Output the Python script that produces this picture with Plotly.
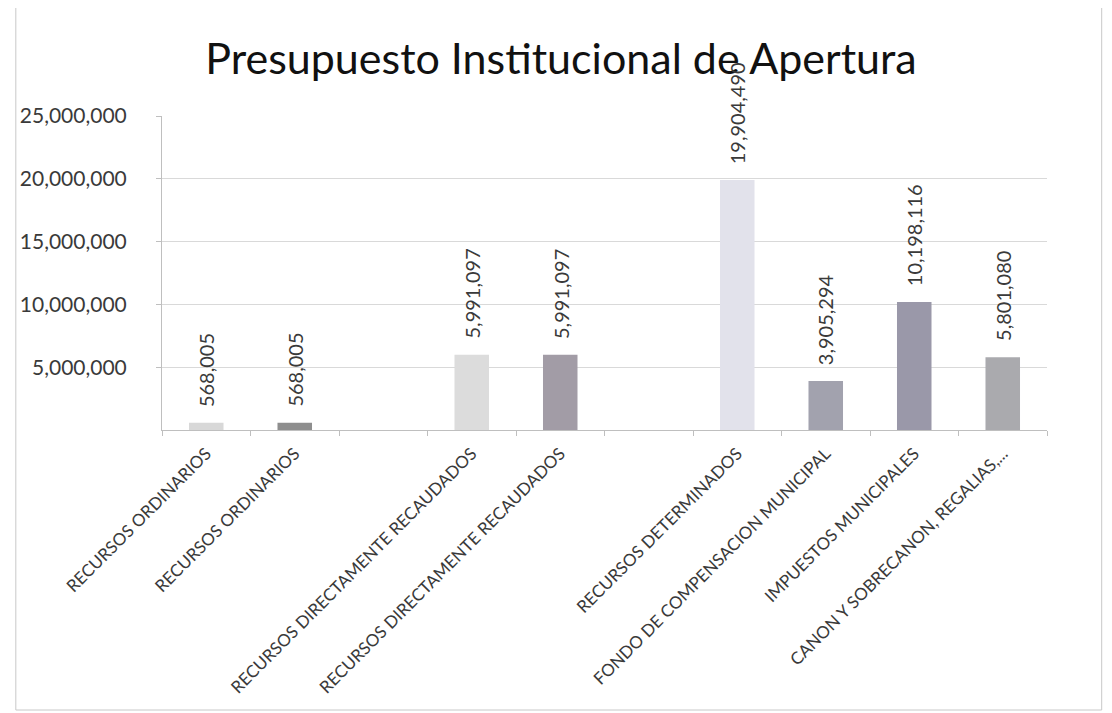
import plotly.graph_objects as go

categories = [
    "RECURSOS ORDINARIOS",
    "RECURSOS ORDINARIOS",
    "",
    "RECURSOS DIRECTAMENTE RECAUDADOS",
    "RECURSOS DIRECTAMENTE RECAUDADOS",
    "",
    "RECURSOS DETERMINADOS",
    "FONDO DE COMPENSACION MUNICIPAL",
    "IMPUESTOS MUNICIPALES",
    "CANON Y SOBRECANON, REGALIAS,...",
]
values = [568005, 568005, None, 5991097, 5991097, None, 19904490, 3905294, 10198116, 5801080]
value_labels = ["568,005", "568,005", "", "5,991,097", "5,991,097", "", "19,904,490", "3,905,294", "10,198,116", "5,801,080"]
bar_colors = ["#d8d8d8", "#8e8e8e", "#ffffff", "#dcdcdc", "#a29ca6", "#ffffff",
              "#e2e2eb", "#a2a2ae", "#9a98a9", "#aaaaae"]
y_ticks = [5000000, 10000000, 15000000, 20000000, 25000000]
y_tick_labels = ["5,000,000", "10,000,000", "15,000,000", "20,000,000", "25,000,000"]

xs = list(range(len(categories)))
FONT = "Lato, Carlito, 'Open Sans', sans-serif"

# page has an 8px body margin
OFF = 8
W, H = 1112 - OFF, 713 - OFF

fig = go.Figure()
fig.add_trace(go.Bar(
    x=xs, y=values, width=0.39,
    marker=dict(color=bar_colors, line=dict(width=0)),
    showlegend=False, hoverinfo="skip",
))

annotations = []
for x, v, t in zip(xs, values, value_labels):
    if v is None:
        continue
    annotations.append(dict(
        x=x, y=v, xref="x", yref="y", text=t, textangle=-90,
        showarrow=False, xanchor="center", yanchor="bottom", yshift=14,
        font=dict(family=FONT, size=20, color="#3a3a3a"),
    ))

L, T = 157 - OFF, 116 - OFF
R = W - (1047 - OFF)
B = H - (430 - OFF)
PW, PH = W - L - R, H - T - B

fig.update_layout(
    width=W, height=H,
    margin=dict(l=L, r=R, t=T, b=B),
    paper_bgcolor="white", plot_bgcolor="white",
    title=dict(text="Presupuesto Institucional de Apertura",
               x=(561 - OFF) / W, xanchor="center", y=1 - (59 - OFF) / H, yanchor="middle",
               font=dict(family=FONT, size=43, color="#111111")),
    annotations=annotations,
    shapes=[dict(type="rect", xref="paper", yref="paper",
                 x0=(10 - OFF - L) / PW, x1=(1102 - OFF - L) / PW,
                 y0=(T + PH - (710 - OFF)) / PH, y1=(T + PH + 2) / PH,
                 line=dict(color="#c8c8c8", width=1), layer="below")],
)
fig.update_xaxes(
    range=[-0.5, len(categories) - 0.5],
    tickmode="array", tickvals=xs, ticktext=categories,
    tickangle=-45, ticks="",
    tickfont=dict(family=FONT, size=17, color="#3a3a3a"),
    showline=True, linecolor="#bfbfbf", linewidth=1,
    showgrid=False, zeroline=False,
    minor=dict(tickmode="array", tickvals=[x - 0.5 for x in xs] + [len(xs) - 0.5],
               ticks="outside", ticklen=5, tickcolor="#bfbfbf", showgrid=False),
    ticklabelstandoff=6,
)
fig.update_yaxes(
    range=[0, 25000000],
    tickmode="array", tickvals=y_ticks, ticktext=y_tick_labels,
    ticks="outside", ticklen=5, tickcolor="#bfbfbf",
    tickfont=dict(family=FONT, size=21, color="#3a3a3a"),
    showline=True, linecolor="#bfbfbf", linewidth=1,
    showgrid=True, gridcolor="#d9d9d9", gridwidth=1,
    zeroline=False, ticklabelstandoff=25,
)

fig.write_html("out.html")
